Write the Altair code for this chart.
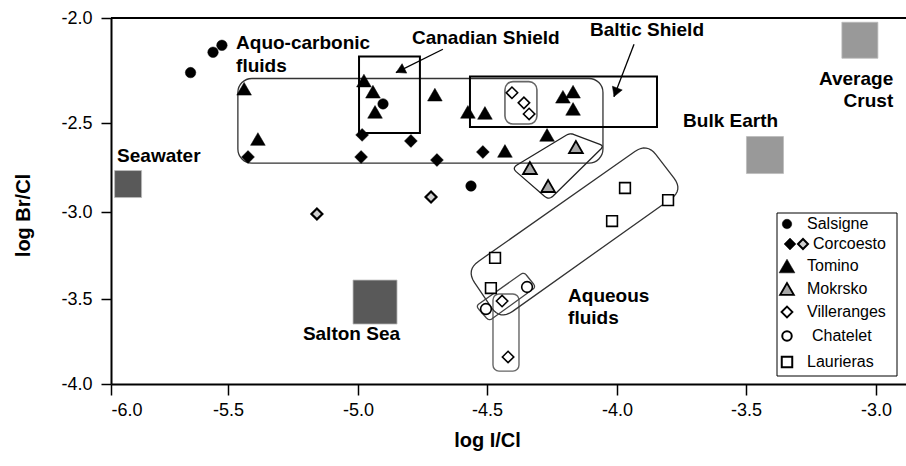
import altair as alt
import pandas as pd

# ---------------- data: (log I/Cl, log Br/Cl) ----------------
salsigne_x = [-5.66, -5.564, -5.526, -4.903, -4.562]
salsigne_y = [-2.26, -2.163, -2.13, -2.409, -2.854]

corcoesto_x = [-5.423, -4.984, -4.988, -4.795, -4.694, -4.516]
corcoesto_y = [-2.691, -2.567, -2.691, -2.601, -2.708, -2.663]

corcoesto2_x = [-5.158, -4.717]
corcoesto2_y = [-3.011, -2.916]

tomino_x = [-5.438, -5.385, -4.977, -4.942, -4.934, -4.702, -4.574, -4.508,
            -4.431, -4.269, -4.208, -4.169, -4.169]
tomino_y = [-2.337, -2.590, -2.298, -2.351, -2.447, -2.365, -2.447, -2.452,
            -2.657, -2.567, -2.375, -2.351, -2.433]

mokrsko_x = [-4.335, -4.265, -4.158]
mokrsko_y = [-2.753, -2.854, -2.635]

villeranges_x = [-4.404, -4.358, -4.338, -4.442, -4.419]
villeranges_y = [-2.356, -2.404, -2.457, -3.512, -3.841]

chatelet_x = [-4.346, -4.504]
chatelet_y = [-3.431, -3.559]

laurieras_x = [-3.969, -3.802, -4.019, -4.469, -4.485]
laurieras_y = [-2.865, -2.933, -3.052, -3.264, -3.437]

ref_names = ["Seawater", "Salton Sea", "Bulk Earth", "Average Crust"]
ref_x = [-5.927, -4.934, -3.427, -3.062]
ref_y = [-2.843, -3.518, -2.68, -2.106]

legend_labels = ["Salsigne", "Corcoesto", "Tomino", "Mokrsko",
                 "Villeranges", "Chatelet", "Laurieras"]

x_ticks = [-6.0, -5.5, -5.0, -4.5, -4.0, -3.5, -3.0]
y_ticks = [-4.0, -3.5, -3.0, -2.5, -2.0]

# enclosures (data coordinates)
aquo_box = (-5.462, -4.054, -2.288, -2.725)
canadian_box = (-4.996, -4.760, -2.183, -2.556)
baltic_box = (-4.566, -3.845, -2.279, -2.522)
vill_box_top = (-4.431, -4.308, -2.303, -2.506)
vill_box_low = (-4.477, -4.377, -3.471, -3.924)
mokrsko_poly = [(-4.404, -2.753), (-4.181, -2.556), (-4.05, -2.629), (-4.262, -2.933)]
laurieras_poly = [(-4.581, -3.333), (-3.884, -2.612), (-3.744, -2.876), (-4.45, -3.624)]
chatelet_poly = [(-4.543, -3.541), (-4.358, -3.345), (-4.312, -3.431), (-4.492, -3.629)]

# arrows: start, tip, head centre
canadian_arrow = ((-4.671, -2.149), (-4.853, -2.260), (-4.836, -2.2495))
baltic_arrow = ((-3.934, -2.125), (-4.012, -2.375), (-4.005, -2.354))

# text annotations
labels_left = [
    ("Aquo-carbonic", -5.469, -2.149),
    ("fluids", -5.469, -2.255),
    ("Canadian Shield", -4.791, -2.125),
    ("Baltic Shield", -4.104, -2.087),
    ("Seawater", -5.974, -2.719),
    ("Salton Sea", -5.212, -3.741),
    ("Bulk Earth", -3.744, -2.522),
    ("Aqueous", -4.188, -3.518),
    ("fluids", -4.188, -3.647),
]
labels_right = [
    ("Average", -2.934, -2.317),
    ("Crust", -2.934, -2.423),
]

# ---------------- scales & axes ----------------
FONT = "Liberation Sans"
MINUS = "\u2212"
lab_expr = "replace(format(datum.value, '.1f'), '" + MINUS + "', '-')"

xscale = alt.Scale(domain=[-6, -5.5, -5, -4.5, -4, -3.5, -3, -2.885],
                   range=[0, 117, 247, 376, 506, 635, 765, 795], nice=False, zero=False)
yscale = alt.Scale(domain=[-4, -3.5, -3, -2.5, -2],
                   range=[366, 281, 194, 105, 0], nice=False, zero=False)

xaxis = alt.Axis(values=x_ticks, labelExpr=lab_expr, tickSize=11, labelPadding=6,
                 titleX=376, titleY=56, titleBaseline="middle", titleAlign="center")
yaxis = alt.Axis(values=y_ticks, labelExpr=lab_expr, tickSize=10, labelPadding=9,
                 titleX=-88, titleY=197, titleAngle=-90, titleBaseline="middle",
                 titleAlign="center")


def X(f="x"):
    return alt.X(f + ":Q", scale=xscale, axis=xaxis, title="log I/Cl")


def Y(f="y"):
    return alt.Y(f + ":Q", scale=yscale, axis=yaxis, title="log Br/Cl")


def points(xs, ys, shape, size, fill, stroke, sw):
    df = pd.DataFrame({"x": xs, "y": ys})
    return alt.Chart(df).mark_point(shape=shape, size=size, filled=True, fill=fill,
                                    stroke=stroke, strokeWidth=sw, opacity=1).encode(x=X(), y=Y())


def box(b, radius, stroke, sw):
    df = pd.DataFrame({"x": [b[0]], "x2": [b[1]], "y": [b[2]], "y2": [b[3]]})
    return alt.Chart(df).mark_rect(fill="transparent", stroke=stroke, strokeWidth=sw,
                                   cornerRadius=radius).encode(
        x=X(), x2="x2:Q", y=Y(), y2="y2:Q")


def rounded(corners, frac, n=8):
    # round polygon corners with quadratic curves (pixel-ish metric)
    sx, sy = 260.0, 180.0
    out = []
    k = len(corners)
    for i in range(k):
        p = corners[i]
        a = corners[i - 1]
        b = corners[(i + 1) % k]
        la = (((a[0] - p[0]) * sx) ** 2 + ((a[1] - p[1]) * sy) ** 2) ** 0.5
        lb = (((b[0] - p[0]) * sx) ** 2 + ((b[1] - p[1]) * sy) ** 2) ** 0.5
        d = frac * min(la, lb)
        ta, tb = d / la, d / lb
        p1 = (p[0] + (a[0] - p[0]) * ta, p[1] + (a[1] - p[1]) * ta)
        p2 = (p[0] + (b[0] - p[0]) * tb, p[1] + (b[1] - p[1]) * tb)
        for j in range(n + 1):
            t = j / n
            out.append(((1 - t) ** 2 * p1[0] + 2 * (1 - t) * t * p[0] + t ** 2 * p2[0],
                        (1 - t) ** 2 * p1[1] + 2 * (1 - t) * t * p[1] + t ** 2 * p2[1]))
    out.append(out[0])
    return out


def poly(corners, frac, stroke, sw):
    pts = rounded(corners, frac)
    df = pd.DataFrame({"x": [p[0] for p in pts], "y": [p[1] for p in pts],
                       "i": list(range(len(pts)))})
    return alt.Chart(df).mark_line(stroke=stroke, strokeWidth=sw).encode(
        x=X(), y=Y(), order="i:Q")


def arrow(a):
    (s, t, c) = a
    df = pd.DataFrame({"x": [s[0]], "y": [s[1]], "x2": [t[0]], "y2": [t[1]]})
    return alt.Chart(df).mark_rule(stroke="black", strokeWidth=1.3).encode(
        x=X(), y=Y(), x2="x2:Q", y2="y2:Q")


def head(a, ang):
    c = a[2]
    df = pd.DataFrame({"x": [c[0]], "y": [c[1]]})
    return alt.Chart(df).mark_point(shape="triangle-up", size=110, filled=True, fill="black",
                                    stroke="black", strokeWidth=0.5, opacity=1,
                                    angle=ang).encode(x=X(), y=Y())


def texts(rows, align):
    df = pd.DataFrame({"t": [r[0] for r in rows], "x": [r[1] for r in rows],
                       "y": [r[2] for r in rows]})
    return alt.Chart(df).mark_text(font=FONT, fontSize=19, fontWeight="bold", align=align,
                                   baseline="alphabetic", color="black").encode(
        x=X(), y=Y(), text="t:N")


layers = []

# top frame line
layers.append(alt.Chart(pd.DataFrame({"y": [-2.0]})).mark_rule(
    stroke="black", strokeWidth=2).encode(y=Y()))

# enclosures
layers.append(box(aquo_box, 14, "#333333", 1.3))
layers.append(box(canadian_box, 0, "black", 2))
layers.append(box(baltic_box, 0, "black", 2))
layers.append(box(vill_box_top, 8, "#666666", 1.6))
layers.append(box(vill_box_low, 6, "#666666", 1.4))
layers.append(poly(mokrsko_poly, 0.12, "#222222", 1.3))
layers.append(poly(laurieras_poly, 0.25, "#333333", 1.3))
layers.append(poly(chatelet_poly, 0.2, "#444444", 1.3))

# reference squares
ref_style = {"Seawater": (729, "#595959"), "Salton Sea": (1936, "#595959"),
             "Bulk Earth": (1369, "#999999"), "Average Crust": (1296, "#999999")}
for nm, rx, ry in zip(ref_names, ref_x, ref_y):
    sz, col = ref_style[nm]
    layers.append(points([rx], [ry], "square", sz, col, "#bbbbbb", 0.8))

# arrows
layers.append(arrow(canadian_arrow))
layers.append(head(canadian_arrow, 244))
layers.append(arrow(baltic_arrow))
layers.append(head(baltic_arrow, 201))

# data points
HATCH = "#a8a8a8"
layers.append(points(salsigne_x, salsigne_y, "circle", 110, "black", "black", 0.5))
layers.append(points(corcoesto_x, corcoesto_y, "diamond", 165, "black", "black", 0.5))
layers.append(points(corcoesto2_x, corcoesto2_y, "diamond", 120, "#d0d0d0", "black", 2.2))
layers.append(points(tomino_x, tomino_y, "triangle-up", 215, "black", "black", 0.5))
layers.append(points(mokrsko_x, mokrsko_y, "triangle-up", 190, HATCH, "black", 1.8))
layers.append(points(villeranges_x, villeranges_y, "diamond", 130, "white", "black", 1.6))
layers.append(points(chatelet_x, chatelet_y, "circle", 115, "white", "black", 1.6))
layers.append(points(laurieras_x, laurieras_y, "square", 115, "white", "black", 1.6))

# annotations
layers.append(texts(labels_left, "left"))
layers.append(texts(labels_right, "right"))

# ---------------- legend (pixel layout inside plot area) ----------------
one = pd.DataFrame({"k": [0]})
layers.append(alt.Chart(one).mark_rect(fill="white", stroke="black", strokeWidth=1).encode(
    x=alt.value(666), x2=alt.value(786), y=alt.value(195), y2=alt.value(358)))

leg_y = [206, 226, 248, 271, 294, 318, 344]
leg_text_x = [696, 702, 696, 696, 696, 701, 696]
leg_sym = [
    [(676, "circle", 90, "black", "black", 0.5)],
    [(679, "diamond", 140, "black", "black", 0.5), (692, "diamond", 100, "#d0d0d0", "black", 2)],
    [(676, "triangle-up", 250, "black", "black", 0.5)],
    [(676, "triangle-up", 190, HATCH, "black", 1.8)],
    [(676, "diamond", 120, "white", "black", 1.8)],
    [(676, "circle", 90, "white", "black", 2)],
    [(676, "square", 110, "white", "black", 2)],
]
for lab, ly, tx, syms in zip(legend_labels, leg_y, leg_text_x, leg_sym):
    for (sx, shp, sz, fl, st, sw) in syms:
        layers.append(alt.Chart(one).mark_point(shape=shp, size=sz, filled=True, fill=fl,
                                                stroke=st, strokeWidth=sw, opacity=1).encode(
            x=alt.value(sx), y=alt.value(ly)))
    layers.append(alt.Chart(pd.DataFrame({"t": [lab]})).mark_text(
        font=FONT, fontSize=16, align="left", baseline="middle", color="black").encode(
        x=alt.value(tx), y=alt.value(ly), text="t:N"))

chart = alt.layer(*layers).properties(
    width=795, height=366,
    autosize=alt.AutoSizeParams(type="none"),
    padding={"left": 111, "top": 18, "right": 0, "bottom": 82},
).configure_view(stroke=None).configure_axis(
    grid=False, domainColor="black", domainWidth=2, tickColor="black", tickWidth=1.5,
    labelColor="black", labelFont=FONT, labelFontSize=18,
    titleFont=FONT, titleFontSize=20, titleFontWeight="bold", titleColor="black",
)

chart.save("out.html", embed_options={"renderer": "svg", "actions": False})
